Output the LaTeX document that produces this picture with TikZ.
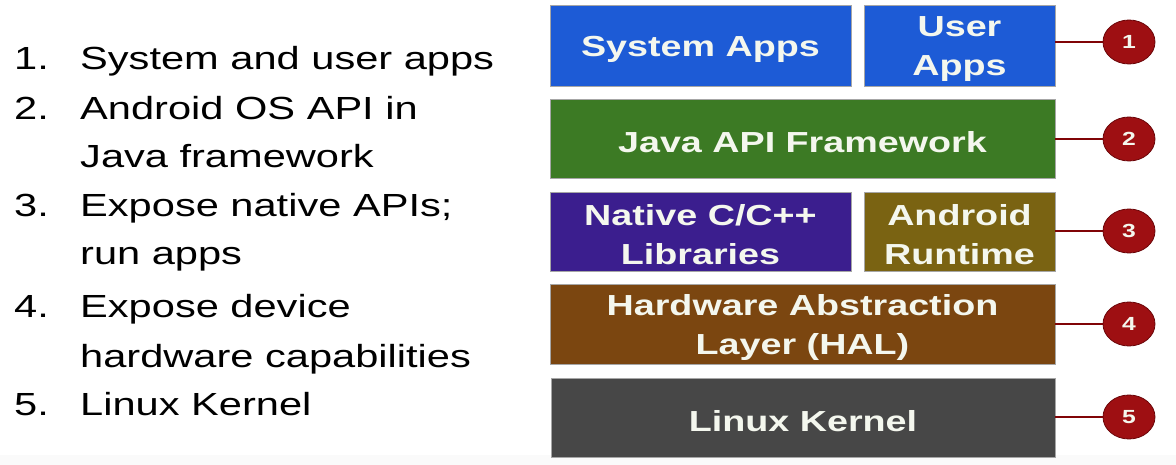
\documentclass[tikz,border=0pt]{standalone}
\usepackage{graphicx}
\usepackage{fontspec}
\setmainfont{Liberation Sans}
\usetikzlibrary{shapes.geometric}
\newcommand{\sx}[1]{\scalebox{1.3}[1]{#1}}
\newcommand{\bx}[1]{\raisebox{-3.5pt}[\height][\depth]{\scalebox{1.3}[1]{#1}}}
\definecolor{cblue}{HTML}{1D5BD6}
\definecolor{cgreen}{HTML}{3C7A24}
\definecolor{cpurple}{HTML}{3B1E8E}
\definecolor{colive}{HTML}{7A6312}
\definecolor{cbrown}{HTML}{7B4610}
\definecolor{cgray}{HTML}{474747}
\definecolor{cred}{HTML}{9E0F12}
\definecolor{cdred}{HTML}{6A0508}
\definecolor{boxtext}{HTML}{F4F7EE}
\begin{document}
\begin{tikzpicture}[x=1pt,y=-1pt,
  layer/.style={rectangle, inner sep=0pt, draw=black!35, line width=0.6pt,
    text=boxtext, font=\fontsize{29}{39}\selectfont\bfseries, align=center},
  badge/.style={ellipse, inner sep=0pt, minimum width=52pt, minimum height=44pt,
    fill=cred, draw=cdred, line width=0.8pt, text=boxtext,
    font=\fontsize{19}{22}\selectfont\bfseries},
  link/.style={draw=cdred!85!red, line width=1.5pt},
  item/.style={anchor=base west, inner sep=0pt, font=\fontsize{32}{40}\selectfont, text=black}
]
\useasboundingbox (0,0) rectangle (1176,465);
\fill[white] (0,0) rectangle (1176,465);
\fill[black!2] (0,455) rectangle (1176,465);

% layer boxes
\node[layer, fill=cblue, minimum width=301pt, minimum height=81pt] (sys) at (700.5,45.5) {\bx{System Apps}};
\node[layer, fill=cblue, minimum width=191pt, minimum height=81pt] (user) at (959.5,45.5) {\bx{User}\\\bx{Apps}};
\node[layer, fill=cgreen, minimum width=505pt, minimum height=79pt] (java) at (802.5,138.5) {\bx{Java API Framework}};
\node[layer, fill=cpurple, minimum width=301pt, minimum height=79pt] (native) at (700.5,231.5) {\bx{Native C/C++}\\\bx{Libraries}};
\node[layer, fill=colive, minimum width=191pt, minimum height=79pt] (art) at (959.5,231.5) {\bx{Android}\\\bx{Runtime}};
\node[layer, fill=cbrown, minimum width=505pt, minimum height=80pt] (hal) at (802.5,324) {\bx{Hardware Abstraction}\\\bx{Layer (HAL)}};
\node[layer, fill=cgray, minimum width=504pt, minimum height=79pt] (kernel) at (803,417.5) {\bx{Linux Kernel}};

% badges
\node[badge] (c1) at (1129,42) {\sx{1}};
\node[badge] (c2) at (1129,139) {\sx{2}};
\node[badge] (c3) at (1129,231) {\sx{3}};
\node[badge] (c4) at (1129,324) {\sx{4}};
\node[badge] (c5) at (1129,417) {\sx{5}};

\draw[link] (user.east |- c1) -- (c1.west);
\draw[link] (java.east |- c2) -- (c2.west);
\draw[link] (art.east |- c3) -- (c3.west);
\draw[link] (hal.east |- c4) -- (c4.west);
\draw[link] (kernel.east |- c5) -- (c5.west);

% left list
\node[item] (n1) at (14,70) {\sx{1.}};
\node[item] (t1) at (80,70) {\sx{System and user apps}};
\node[item] (n2) at (14,120) {\sx{2.}};
\node[item] (t2a) at (80,120) {\sx{Android OS API in}};
\node[item] (t2b) at (80,168) {\sx{Java framework}};
\node[item] (n3) at (14,217) {\sx{3.}};
\node[item] (t3a) at (80,217) {\sx{Expose native APIs;}};
\node[item] (t3b) at (80,265) {\sx{run apps}};
\node[item] (n4) at (14,317) {\sx{4.}};
\node[item] (t4a) at (80,317) {\sx{Expose device}};
\node[item] (t4b) at (80,367) {\sx{hardware capabilities}};
\node[item] (n5) at (14,415) {\sx{5.}};
\node[item] (t5) at (80,415) {\sx{Linux Kernel}};
\end{tikzpicture}
\end{document}
